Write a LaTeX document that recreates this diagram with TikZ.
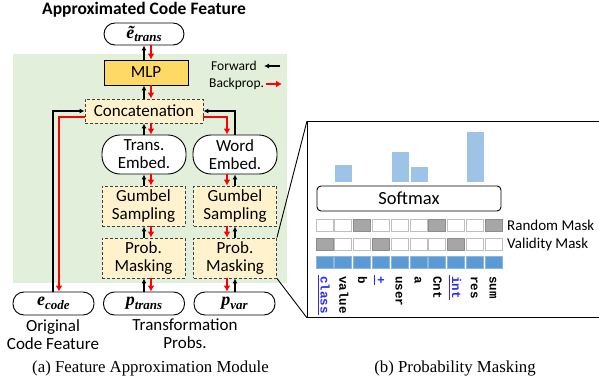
\documentclass[tikz,border=0pt]{standalone}
\usepackage{fontspec}
\setmainfont{Carlito}
\newfontfamily\capfont{Liberation Serif}
\newfontfamily\tokfont{Liberation Mono}
\usetikzlibrary{arrows.meta}
\newcommand\mathv[2]{{\capfont\bfseries\itshape\fontsize{18}{18}\selectfont #1\raisebox{-3.5pt}{\fontsize{13}{13}\selectfont #2}}}
\definecolor{bggreen}{HTML}{E2EFDA}
\definecolor{mlpfill}{HTML}{FFD966}
\definecolor{dashfill}{HTML}{FFF2CC}
\definecolor{barblue}{HTML}{9DC3E6}
\definecolor{cellblue}{HTML}{5B9BD5}
\definecolor{cellblueb}{HTML}{8DB6E0}
\definecolor{cellgray}{HTML}{A6A6A6}
\definecolor{cellgrayb}{HTML}{8C8C8C}
\definecolor{cellwb}{HTML}{BFBFBF}
\definecolor{tokblue}{HTML}{2A2AFF}
\definecolor{dashline}{HTML}{404040}
\tikzset{
  txt/.style={font=\fontsize{17}{18}\selectfont, inner sep=0pt, align=center},
  roundbox/.style={txt, draw, line width=0.9pt, rounded corners=11pt, fill=white},
  embbox/.style={txt, draw, line width=0.9pt, rounded corners=18pt, fill=white},
  mlpbox/.style={txt, draw, line width=0.9pt, fill=mlpfill},
  dashbox/.style={txt, draw=dashline, dashed, dash pattern=on 3pt off 2pt, line width=0.9pt, fill=dashfill},
  fw/.style={draw=black, line width=1.3pt, -{Latex[length=5pt,width=5pt]}},
  bp/.style={draw=red, line width=2.2pt, -{Latex[length=6pt,width=7pt]}},
  cellbase/.style={minimum width=17pt, minimum height=12pt, inner sep=0pt, line width=0.7pt},
  wc/.style={cellbase, draw=cellwb, fill=white},
  gc/.style={cellbase, draw=cellgrayb, fill=cellgray},
  bc/.style={cellbase, draw=cellblueb, fill=cellblue},
  tok/.style={font=\tokfont\bfseries\fontsize{12.5}{13}\selectfont, inner sep=0pt, rotate=-90, anchor=base west},
  lbl/.style={font=\fontsize{15}{16}\selectfont, inner sep=0pt, anchor=west},
  leg/.style={font=\fontsize{13.5}{14}\selectfont, inner sep=0pt},
  captext/.style={font=\capfont\fontsize{16.8}{18}\selectfont, inner sep=0pt, anchor=base}
}
\begin{document}
\begin{tikzpicture}[x=1pt,y=-1pt]
\useasboundingbox (0,0) rectangle (599,385);
% green background
\fill[bggreen] (13,54) rectangle (287,283);

% title
\node[txt, font=\bfseries\fontsize{17.5}{18}\selectfont] (title) at (144,10) {Approximated Code Feature};

% left module nodes
\node[roundbox, minimum width=80pt, minimum height=22pt] (et) at (144,34) {\mathv{ẽ}{trans}};
\node[mlpbox, minimum width=84pt, minimum height=25pt] (mlp) at (146,72.5) {MLP};
\node[dashbox, minimum width=118pt, minimum height=24pt] (cat) at (144,111) {Concatenation};
\node[embbox, minimum width=84pt, minimum height=39pt] (te) at (144,154.5) {Trans.\\Embed.};
\node[embbox, minimum width=84pt, minimum height=39pt] (we) at (235,154.5) {Word\\Embed.};
\node[dashbox, minimum width=83pt, minimum height=40pt] (gt) at (143.5,206) {Gumbel\\Sampling};
\node[dashbox, minimum width=83pt, minimum height=40pt] (gw) at (235,206) {Gumbel\\Sampling};
\node[dashbox, minimum width=83pt, minimum height=40pt] (mt) at (143.5,258) {Prob.\\Masking};
\node[dashbox, minimum width=83pt, minimum height=40pt] (mw) at (235,258) {Prob.\\Masking};
\node[roundbox, minimum width=81pt, minimum height=23pt] (ec) at (53.5,303.5) {\mathv{e}{code}};
\node[roundbox, minimum width=81pt, minimum height=23pt] (pt) at (144,303.5) {\mathv{p}{trans}};
\node[roundbox, minimum width=81pt, minimum height=23pt] (pv) at (234.5,303.5) {\mathv{p}{var}};

\node[txt, anchor=north] (ocf) at (53,319) {Original\\Code Feature};
\node[txt, anchor=north] (tp) at (185,319) {Transformation\\Probs.};

% legend
\node[leg, anchor=west] (fwd) at (211,66) {Forward};
\node[leg, anchor=west] (bwd) at (209,84) {Backprop.};
\coordinate (fa1) at (280,66); \coordinate (fa2) at (264,66);
\coordinate (ba1) at (266,84); \coordinate (ba2) at (282,84);
\draw[fw] (fa1) -- (fa2);
\draw[bp] (ba1) -- (ba2);

% column x positions
\coordinate (tb) at (144,0); \coordinate (tr) at (151,0);
\coordinate (wr) at (227,0); \coordinate (wb) at (235,0);
\coordinate (lb) at (53,0);  \coordinate (lr) at (59,0);
\coordinate (yb) at (0,111); \coordinate (yr) at (0,117);

% trans column
\foreach \u/\l in {et/mlp, mlp/cat, cat/te, te/gt, gt/mt, mt/pt}{
  \draw[fw] (\l.north -| tb) -- (\u.south -| tb);
  \draw[bp] (\u.south -| tr) -- (\l.north -| tr);
}
% word column
\foreach \u/\l in {we/gw, gw/mw, mw/pv}{
  \draw[fw] (\l.north -| wb) -- (\u.south -| wb);
  \draw[bp] (\u.south -| wr) -- (\l.north -| wr);
}
% word embed <-> concatenation
\draw[fw] (we.north -| wb) |- (cat.east |- yb);
\draw[bp] (cat.east |- yr) -| (we.north -| wr);
% code feature <-> concatenation
\draw[fw] (ec.north -| lb) |- (cat.west |- yb);
\draw[bp] (cat.west |- yr) -| (ec.north -| lr);

% right panel
\node[draw, line width=0.9pt, minimum width=293pt, minimum height=196pt, anchor=north west, inner sep=0pt] (panel) at (307,121) {};
\draw[line width=0.9pt] (mw.north east) -- (panel.north west);
\draw[line width=0.9pt] (mw.south east) -- (panel.south west);

% bars
\fill[barblue] (335,182) rectangle (352,165);
\fill[barblue] (391.5,182) rectangle (408.5,152);
\fill[barblue] (410.5,182) rectangle (427.5,167);
\fill[barblue] (466.5,182) rectangle (483.5,132);

\node[draw, line width=0.9pt, rounded corners=4pt, minimum width=184pt, minimum height=25pt, inner sep=0pt, font=\fontsize{18.5}{19}\selectfont] (soft) at (409,198.5) {Softmax};

% mask rows
\foreach \i/\s in {0/wc,1/wc,2/gc,3/wc,4/wc,5/wc,6/gc,7/wc,8/wc,9/gc}{
  \node[\s] (r\i) at ({324.5+18.8*\i},225) {};
}
\foreach \i/\s in {0/gc,1/wc,2/wc,3/gc,4/wc,5/wc,6/wc,7/gc,8/wc,9/wc}{
  \node[\s] (v\i) at ({324.5+18.8*\i},244) {};
}
\foreach \i in {0,...,9}{
  \node[bc] (b\i) at ({324.5+18.8*\i},262) {};
}
\node[lbl] (rm) at (507,225) {Random Mask};
\node[lbl] (vm) at (507,244) {Validity Mask};

% tokens
\foreach \i/\t/\c in {0/class/tokblue,1/value/black,2/b/black,3/+/tokblue,4/user/black,5/a/black,6/Cnt/black,7/int/tokblue,8/res/black,9/sum/black}{
  \node[tok, text=\c] (t\i) at ({320.5+18.8*\i},276) {\t};
}
\foreach \i in {0,3,7}{
  \draw[tokblue, line width=0.9pt] ([xshift=-2.2pt,yshift=1pt]t\i.base west) -- ([xshift=-2.2pt,yshift=-1.5pt]t\i.base east);
}

% captions
\node[captext] (capa) at (150.5,372) {(a) Feature Approximation Module};
\node[captext] (capb) at (455,372) {(b) Probability Masking};
\end{tikzpicture}
\end{document}
